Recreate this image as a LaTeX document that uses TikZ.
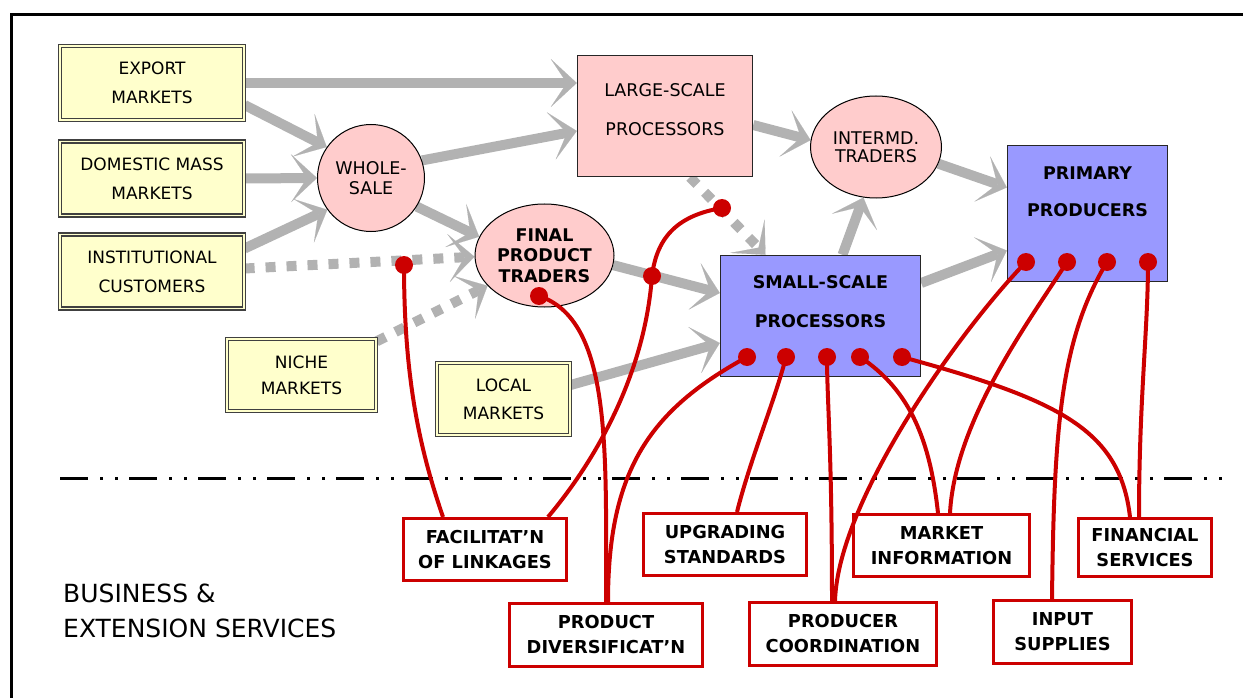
\documentclass[tikz,border=0pt]{standalone}
\usepackage{fontspec}
\setmainfont{DejaVu Sans}
\usetikzlibrary{arrows.meta,shapes.geometric,backgrounds}

\definecolor{mktfill}{HTML}{FFFFCC}
\definecolor{mktline}{HTML}{404040}
\definecolor{trdfill}{HTML}{FFCCCC}
\definecolor{prcfill}{HTML}{9999FF}
\definecolor{flowgray}{RGB}{178,178,178}
\definecolor{svcred}{HTML}{CC0000}

\tikzset{
  mktbox/.style={draw=mktline, line width=1.2pt, double=mktfill, double distance=1.8pt,
    fill=mktfill, inner sep=0pt, minimum width=184pt, minimum height=74pt, align=center,
    font=\fontsize{17}{29}\selectfont},
  trdcircle/.style={circle, draw=black, line width=1pt, fill=trdfill, inner sep=0pt,
    minimum size=107pt, align=center, font=\fontsize{17.5}{20}\selectfont},
  trdoval/.style={ellipse, draw=black, line width=1pt, fill=trdfill, inner sep=0pt,
    align=center, font=\fontsize{17.5}{18.5}\selectfont},
  prcbox/.style={rectangle, draw=black!85, line width=1.4pt, inner sep=0pt},
  prctext/.style={inner sep=0pt, align=center, font=\fontsize{17.5}{39}\selectfont},
  prcbold/.style={inner sep=0pt, align=center, font=\bfseries\fontsize{17.5}{39}\selectfont},
  svcbox/.style={rectangle, draw=svcred, line width=3pt, fill=white, inner sep=0pt,
    align=center, font=\bfseries\fontsize{17.8}{25}\selectfont},
  svclink/.style={draw=svcred, line width=4pt},
  svcdot/.style={circle, fill=svcred, minimum size=18pt, inner sep=0pt},
  flowarrow/.style={draw=flowgray, line width=10pt,
    -{Stealth[length=26pt, width=48pt, inset=16pt, line width=0.1pt]}},
  flowdots/.style={flowarrow, dash pattern=on 10pt off 11pt},
}

\begin{document}
\begin{tikzpicture}[x=1pt, y=-1pt]
\useasboundingbox (0,0) rectangle (1243,698);

% outer frame (top and left edges)
\draw[line width=3pt] (11.5,698) -- (11.5,14.5) -- (1243,14.5);

% markets
\node[mktbox] (exp) at (152,83) {EXPORT\\MARKETS};
\node[mktbox] (dom) at (152,178.5) {DOMESTIC MASS\\MARKETS};
\node[mktbox] (ins) at (152,271.5) {INSTITUTIONAL\\CUSTOMERS};
\node[mktbox, minimum width=149pt, minimum height=72pt, font=\fontsize{17}{26}\selectfont]
  (nic) at (301.5,375) {NICHE\\MARKETS};
\node[mktbox, minimum width=133pt, minimum height=72pt, font=\fontsize{17}{28}\selectfont]
  (loc) at (503.5,399) {LOCAL\\MARKETS};

% traders
\node[trdcircle] (ws) at (371,178) {WHOLE-\\SALE};
\node[trdoval, minimum width=131pt, minimum height=102pt] (itr) at (876,147) {INTERMD.\\TRADERS};
\node[trdoval, minimum width=139pt, minimum height=103pt,
  font=\bfseries\fontsize{17.5}{20.5}\selectfont] (fpt) at (544.5,255.5) {FINAL\\PRODUCT\\TRADERS};

% processors and producers
\node[prcbox, fill=trdfill, minimum width=175pt, minimum height=121pt] (lsp) at (665,116) {};
\node[prctext] (lspt) at (665,109.5) {LARGE-SCALE\\PROCESSORS};
\node[prcbox, fill=prcfill, minimum width=200pt, minimum height=121pt] (ssp) at (820.5,316) {};
\node[prcbold] (sspt) at (820.5,301.5) {SMALL-SCALE\\PROCESSORS};
\node[prcbox, fill=prcfill, minimum width=160pt, minimum height=136pt] (pp) at (1087.5,213.5) {};
\node[prcbold, font=\bfseries\fontsize{17.5}{37}\selectfont] (ppt) at (1087.5,191.5) {PRIMARY\\PRODUCERS};

% product and market flows
\begin{pgfonlayer}{background}
\draw[flowarrow] (exp.east) -- (lsp.west |- exp.east);
\draw[flowarrow] ([yshift=-22pt]exp.east) -- (ws.145);
\draw[flowarrow] (dom.east) -- (ws.180);
\draw[flowarrow] ([yshift=23pt]ins.east) -- (ws.216);
\draw[flowarrow] (ws.19) -- ([yshift=-15pt]lsp.west);
\draw[flowarrow] (ws.-32) -- (fpt.164);
\draw[flowarrow] (fpt.-8) -- ([yshift=23pt]ssp.west);
\draw[flowarrow] ([yshift=-9pt]lsp.east) -- (itr.174);
\draw[flowarrow] (itr.-15) -- ([yshift=26pt]pp.west);
\draw[flowarrow] ([xshift=22pt]ssp.north) -- (itr.256);
\draw[flowarrow] ([yshift=33pt]ssp.east) -- ([yshift=-37pt]pp.west);
\draw[flowarrow] ([yshift=14pt]loc.east) -- ([yshift=-27pt]ssp.west);
\draw[flowdots] ([yshift=3pt]ins.east) -- (fpt.181);
\draw[flowdots] ([yshift=-3pt]nic.north east) -- (fpt.208);
\draw[flowdots] ([xshift=25pt]lsp.south) -- ([xshift=-55pt]ssp.north);
\end{pgfonlayer}

% separator between chain and support services
\draw[line width=3pt, dash pattern=on 28pt off 12pt on 3pt off 12pt on 3pt off 11pt]
  (60,478) -- (1222,478);

\node[anchor=west, align=left, inner sep=0pt, font=\fontsize{25}{35}\selectfont]
  (bes) at (63,610.5) {BUSINESS \&\\EXTENSION SERVICES};

% services
\node[svcbox, minimum width=163pt, minimum height=62pt] (fac) at (485,549.5) {FACILITAT’N\\OF LINKAGES};
\node[svcbox, minimum width=193pt, minimum height=63pt] (prod) at (606,635) {PRODUCT\\DIVERSIFICAT’N};
\node[svcbox, minimum width=163pt, minimum height=62pt] (upg) at (725,544.5) {UPGRADING\\STANDARDS};
\node[svcbox, minimum width=187pt, minimum height=63pt] (pco) at (843,634) {PRODUCER\\COORDINATION};
\node[svcbox, minimum width=176pt, minimum height=62pt] (mkt) at (941.5,545.5) {MARKET\\INFORMATION};
\node[svcbox, minimum width=138pt, minimum height=63pt] (inp) at (1062.5,632) {INPUT\\SUPPLIES};
\node[svcbox, minimum width=133pt, minimum height=58pt] (fin) at (1145,547.5) {FINANCIAL\\SERVICES};

% service contact points
\node[svcdot] (kW) at (404,265) {};
\node[svcdot] (kT) at (539,296) {};
\node[svcdot] (kF) at (652,276) {};
\node[svcdot] (kL) at (722,208) {};
\node[svcdot] (kS1) at (747,357) {};
\node[svcdot] (kS2) at (786,357) {};
\node[svcdot] (kS3) at (827,357) {};
\node[svcdot] (kS4) at (860,357) {};
\node[svcdot] (kS5) at (902,357) {};
\node[svcdot] (kP1) at (1026,262) {};
\node[svcdot] (kP2) at (1067,262) {};
\node[svcdot] (kP3) at (1107,262) {};
\node[svcdot] (kP4) at (1148,262) {};

% service links
\draw[svclink] ([xshift=-42pt]fac.north) .. controls (420,450) and (404,380) .. (kW.center);
\draw[svclink] ([xshift=63pt]fac.north) .. controls (600,455) and (645,370) .. (kF.center)
  .. controls (657,235) and (680,215) .. (kL.center);
\draw[svclink] (prod.north) .. controls (606,450) and (612,320) .. (kT.center);
\draw[svclink] ([xshift=2pt]prod.north) .. controls (608,470) and (650,410) .. (kS1.center);
\draw[svclink] ([xshift=12pt]upg.north) .. controls (750,460) and (775,400) .. (kS2.center);
\draw[svclink] ([xshift=-11pt]pco.north) .. controls (832,450) and (827,400) .. (kS3.center);
\draw[svclink] ([xshift=-8pt]pco.north) .. controls (838,500) and (960,330) .. (kP1.center);
\draw[svclink] ([xshift=-3.5pt]mkt.north) .. controls (930,440) and (910,390) .. (kS4.center);
\draw[svclink] ([xshift=8.5pt]mkt.north) .. controls (955,420) and (1030,320) .. (kP2.center);
\draw[svclink] ([xshift=-10.5pt]inp.north) .. controls (1054,430) and (1060,340) .. (kP3.center);
\draw[svclink] ([xshift=-6pt]fin.north) .. controls (1139,400) and (1148,330) .. (kP4.center);
\draw[svclink] ([xshift=-15pt]fin.north) .. controls (1120,430) and (1060,400) .. (kS5.center);
\end{tikzpicture}
\end{document}
